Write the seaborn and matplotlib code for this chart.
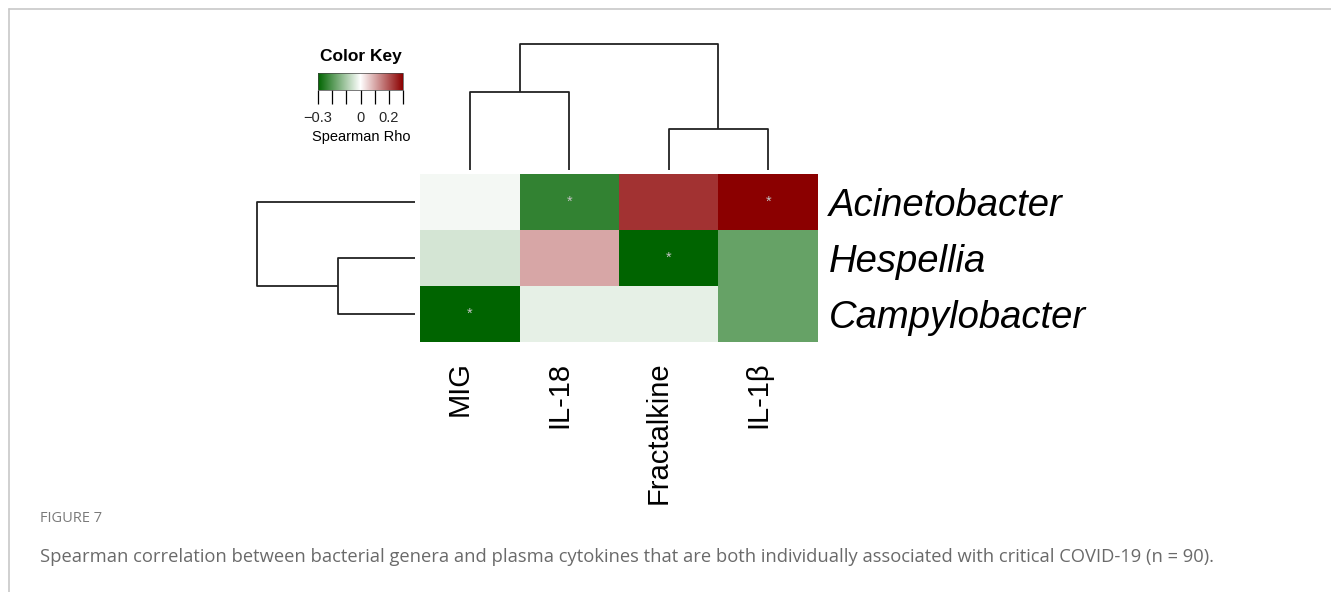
import numpy as np
import pandas as pd
import matplotlib
matplotlib.use("Agg")
import matplotlib.pyplot as plt
import seaborn as sns
from matplotlib.colors import LinearSegmentedColormap
from matplotlib.transforms import ScaledTranslation
from matplotlib.lines import Line2D

# ---- data -------------------------------------------------------------
genera = ["Acinetobacter", "Hespellia", "Campylobacter"]
cytokines = ["MIG", "IL-18", "Fractalkine", "IL-1β"]

rho_acinetobacter = [-0.012, -0.24, 0.24, 0.30]
rho_hespellia = [-0.05, 0.105, -0.30, -0.18]
rho_campylobacter = [-0.30, -0.03, -0.03, -0.18]

signif_acinetobacter = [False, True, False, True]
signif_hespellia = [False, False, True, False]
signif_campylobacter = [True, False, False, False]

# hierarchical clustering merge heights (cytokines / genera)
col_h_mig_il18 = 0.78
col_h_frac_il1b = 0.41
col_h_root = 1.26
row_h_hesp_campy = 0.49
row_h_root = 1.00

key_ticks = [-0.3, -0.2, -0.1, 0.0, 0.1, 0.2, 0.3]
key_labels = ["\u22120.3", "", "", "0", "", "0.2", ""]

caption_label = "FIGURE 7"
caption_text = ("Spearman correlation between bacterial genera and plasma cytokines "
                "that are both individually associated with critical COVID-19 (n = 90).")

# ---- setup ------------------------------------------------------------
sns.set_theme(style="white")
plt.rcParams["font.family"] = ["Liberation Sans", "DejaVu Sans"]

W, H = 1331, 592
fig = plt.figure(figsize=(W / 100, H / 100), dpi=100)


def box(x0, y0, x1, y1):
    """Figure-fraction rect from pixel corners (top-left origin)."""
    return [x0 / W, 1 - y1 / H, (x1 - x0) / W, (y1 - y0) / H]


df = pd.DataFrame([rho_acinetobacter, rho_hespellia, rho_campylobacter],
                  index=genera, columns=cytokines)
stars = np.where(np.array([signif_acinetobacter, signif_hespellia,
                           signif_campylobacter]), "*", "")

cmap = LinearSegmentedColormap.from_list("gwr", ["#006400", "#ffffff", "#8b0000"])

# ---- heatmap ----------------------------------------------------------
ax_hm = fig.add_axes(box(420, 174, 818, 342))
sns.heatmap(df, ax=ax_hm, cmap=cmap, vmin=-0.3, vmax=0.3, cbar=False,
            annot=stars, fmt="", annot_kws=dict(color="#c4c4c4", fontsize=10.5),
            linewidths=0, xticklabels=True, yticklabels=True)
ax_hm.yaxis.tick_right()
ax_hm.tick_params(axis="both", length=0)
ax_hm.tick_params(axis="y", pad=8, labelsize=27.5)
ax_hm.tick_params(axis="x", pad=14, labelsize=21)
for lab in ax_hm.get_yticklabels():
    lab.set_rotation(0)
    lab.set_fontstyle("italic")
    lab.set_color("black")
for lab in ax_hm.get_xticklabels():
    lab.set_rotation(90)
    lab.set_color("black")
    lab.set_transform(lab.get_transform() + ScaledTranslation(-7 / 72, 0, fig.dpi_scale_trans))
ax_hm.set_xlabel("")
ax_hm.set_ylabel("")

LINE = dict(color="#222222", lw=1.3, clip_on=False, solid_capstyle="butt")

# ---- column dendrogram ------------------------------------------------
ax_cd = fig.add_axes(box(420, 44, 818, 170))
ax_cd.set_xlim(0, len(cytokines))
ax_cd.set_ylim(0, col_h_root)
ax_cd.axis("off")


def link_v(ax, xa, ha, xb, hb, h):
    ax.plot([xa, xa, xb, xb], [ha, h, h, hb], **LINE)


link_v(ax_cd, 0.5, 0, 1.5, 0, col_h_mig_il18)
link_v(ax_cd, 2.5, 0, 3.5, 0, col_h_frac_il1b)
link_v(ax_cd, 1.0, col_h_mig_il18, 3.0, col_h_frac_il1b, col_h_root)

# ---- row dendrogram ---------------------------------------------------
ax_rd = fig.add_axes(box(257, 174, 415, 342))
ax_rd.set_ylim(len(genera), 0)
ax_rd.set_xlim(row_h_root, 0)
ax_rd.axis("off")


def link_h(ax, ya, ha, yb, hb, h):
    ax.plot([ha, h, h, hb], [ya, ya, yb, yb], **LINE)


link_h(ax_rd, 1.5, 0, 2.5, 0, row_h_hesp_campy)
link_h(ax_rd, 0.5, 0, 2.0, row_h_hesp_campy, row_h_root)

# ---- color key --------------------------------------------------------
ax_key = fig.add_axes(box(318, 73, 403, 90))
cb = fig.colorbar(ax_hm.collections[0], cax=ax_key, orientation="horizontal")
cb.set_ticks(key_ticks)
cb.set_ticklabels(key_labels)
cb.outline.set_linewidth(0.5)
cb.outline.set_edgecolor("#444444")
ax_key.tick_params(axis="x", length=10, width=0.9, color="black",
                   labelsize=10.5, pad=5, direction="out", bottom=True)
fig.text(361 / W, 1 - 57 / H, "Color Key", ha="center", va="center",
         fontsize=12.5, fontweight="bold", color="black")
fig.text(361 / W, 1 - 137 / H, "Spearman Rho", ha="center", va="center",
         fontsize=10.5, color="black")

# ---- caption and frame -------------------------------------------------
fig.text(40 / W, 1 - 519 / H, caption_label, ha="left", va="center",
         fontsize=10.5, color="#7a7a7a", family=["Open Sans", "DejaVu Sans"])
fig.text(40 / W, 1 - 557 / H, caption_text, ha="left", va="center",
         fontsize=13.2, color="#6a6a6a", family=["Open Sans", "DejaVu Sans"])

fig.add_artist(Line2D([9 / W, 1], [1 - 9 / H, 1 - 9 / H], color="#c8c8c8", lw=1.2))
fig.add_artist(Line2D([9 / W, 9 / W], [1 - 9 / H, 0], color="#c8c8c8", lw=1.2))

fig.savefig("out.png", dpi=100, facecolor="white")
